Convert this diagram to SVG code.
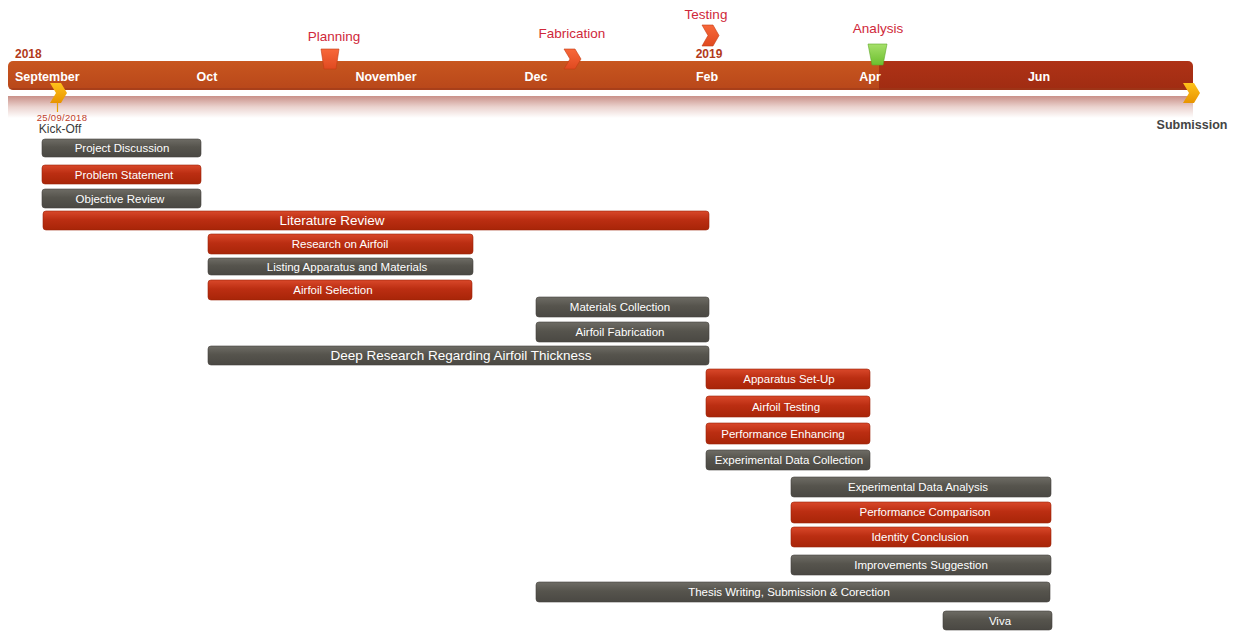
<svg xmlns="http://www.w3.org/2000/svg" width="1246" height="631" viewBox="0 0 1246 631">
<defs>
<linearGradient id="gRed" x1="0" y1="0" x2="0" y2="1">
<stop offset="0" stop-color="#D9482A"/><stop offset="0.45" stop-color="#BB2E12"/><stop offset="1" stop-color="#A82508"/>
</linearGradient>
<linearGradient id="gGray" x1="0" y1="0" x2="0" y2="1">
<stop offset="0" stop-color="#6E6C65"/><stop offset="0.45" stop-color="#56544D"/><stop offset="1" stop-color="#4A4843"/>
</linearGradient>
<linearGradient id="gRefl" x1="0" y1="0" x2="0" y2="1">
<stop offset="0" stop-color="#C99088"/><stop offset="0.5" stop-color="#EBD3CF"/><stop offset="1" stop-color="#FFFFFF"/>
</linearGradient>
<linearGradient id="gOrange" x1="0" y1="0" x2="0" y2="1">
<stop offset="0" stop-color="#C8561F"/><stop offset="1" stop-color="#B8471A"/>
</linearGradient>
<linearGradient id="gDark" x1="0" y1="0" x2="0" y2="1">
<stop offset="0" stop-color="#AE3216"/><stop offset="1" stop-color="#A02C12"/>
</linearGradient>
<linearGradient id="gYellow" x1="0" y1="0" x2="0" y2="1">
<stop offset="0" stop-color="#FFC21A"/><stop offset="1" stop-color="#E89400"/>
</linearGradient>
<linearGradient id="gGreen" x1="0" y1="0" x2="0" y2="1">
<stop offset="0" stop-color="#A6E06A"/><stop offset="1" stop-color="#6CBF2E"/>
</linearGradient>
<linearGradient id="gMark" x1="0" y1="0" x2="0" y2="1">
<stop offset="0" stop-color="#F8683A"/><stop offset="1" stop-color="#E04A20"/>
</linearGradient>
<clipPath id="barClip"><rect x="8" y="61" width="1185" height="29" rx="5"/></clipPath>
</defs>
<style>
.red{fill:url(#gRed);stroke:#9A2206;stroke-width:0.6}
.gray{fill:url(#gGray);stroke:#44423D;stroke-width:0.6}
.t{font-family:"Liberation Sans",Arial,sans-serif;font-size:11.5px;fill:#FFFFFF;text-anchor:middle;dominant-baseline:central}
.tb{font-size:13.5px}
.month{font-family:"Liberation Sans",Arial,sans-serif;font-size:12.5px;font-weight:bold;fill:#FFFFFF}
.yr{font-family:"Liberation Sans",Arial,sans-serif;font-size:12px;font-weight:bold;fill:#B23A1A}
.ms{font-family:"Liberation Sans",Arial,sans-serif;font-size:13.5px;fill:#D0283A;text-anchor:middle}
.mk{stroke:#C23C14;stroke-width:0.6}
</style>
<rect width="1246" height="631" fill="#FFFFFF"/>

<g id="timeline">
<rect x="8" y="96" width="1185" height="22" fill="url(#gRefl)"/>
<g clip-path="url(#barClip)">
<rect x="8" y="61" width="871" height="29" fill="url(#gOrange)"/>
<rect x="879" y="61" width="314" height="29" fill="url(#gDark)"/>
<rect x="8" y="88" width="1185" height="2" fill="#9C3A1A" opacity="0.6"/>
</g>
<text class="yr" x="15" y="58">2018</text>
<text class="yr" x="709" y="58" text-anchor="middle">2019</text>
<text class="month" x="15" y="81">September</text>
<text class="month" x="207" y="81" text-anchor="middle">Oct</text>
<text class="month" x="386" y="81" text-anchor="middle">November</text>
<text class="month" x="536" y="81" text-anchor="middle">Dec</text>
<text class="month" x="707" y="81" text-anchor="middle">Feb</text>
<text class="month" x="870" y="81" text-anchor="middle">Apr</text>
<text class="month" x="1039" y="81" text-anchor="middle">Jun</text>
</g>

<g id="kickoff">
<line x1="57.5" y1="100" x2="57.5" y2="112" stroke="#E8A000" stroke-width="1.2"/>
<polygon points="50,83 61,83 67,93 61,103 50,103 56,93" fill="url(#gYellow)"/>
<text x="62" y="121" font-family="Liberation Sans, Arial, sans-serif" font-size="9.5" letter-spacing="0.3" fill="#C0402A" text-anchor="middle">25/09/2018</text>
<text x="60" y="133" font-family="Liberation Sans, Arial, sans-serif" font-size="12" fill="#3A3A3A" text-anchor="middle">Kick-Off</text>
</g>

<g id="submission">
<polygon points="1183,83 1194,83 1200,93 1194,103 1183,103 1189,93" fill="url(#gYellow)"/>
<text x="1192" y="129" font-family="Liberation Sans, Arial, sans-serif" font-size="12.5" font-weight="bold" fill="#444444" text-anchor="middle">Submission</text>
</g>

<g id="planning">
<text class="ms" x="334" y="41">Planning</text>
<polygon class="mk" points="321,49 339,49 336,69 324,69" fill="url(#gMark)"/>
</g>
<g id="fabrication">
<text class="ms" x="572" y="38">Fabrication</text>
<polygon class="mk" points="564,49 575,49 581,59 575,69 564,69 570,59" fill="url(#gMark)"/>
</g>
<g id="testing">
<text class="ms" x="706" y="19">Testing</text>
<polygon class="mk" points="702,25 713,25 719,35.5 713,46 702,46 708,35.5" fill="url(#gMark)"/>
</g>
<g id="analysis">
<text class="ms" x="878" y="33">Analysis</text>
<polygon points="868,44 887,44 883,65 872,65" fill="url(#gGreen)" stroke="#5FA82A" stroke-width="0.6"/>
</g>

<g id="tasks">
<g id="t-project-discussion"><rect class="gray" x="42" y="139" width="159" height="18" rx="3"/><text class="t" x="122" y="148">Project Discussion</text></g>
<g id="t-problem-statement"><rect class="red" x="42" y="165" width="159" height="19" rx="3"/><text class="t" x="124" y="174.5">Problem Statement</text></g>
<g id="t-objective-review"><rect class="gray" x="42" y="189" width="159" height="19" rx="3"/><text class="t" x="120" y="198.5">Objective Review</text></g>
<g id="t-literature-review"><rect class="red" x="43" y="211" width="666" height="19" rx="3"/><text class="t tb" x="332" y="220.5">Literature Review</text></g>
<g id="t-research-airfoil"><rect class="red" x="208" y="234" width="265" height="20" rx="3"/><text class="t" x="340" y="244">Research on Airfoil</text></g>
<g id="t-listing"><rect class="gray" x="208" y="258" width="265" height="17" rx="3"/><text class="t" x="347" y="267">Listing Apparatus and Materials</text></g>
<g id="t-airfoil-selection"><rect class="red" x="208" y="280" width="264" height="20" rx="3"/><text class="t" x="333" y="290">Airfoil Selection</text></g>
<g id="t-materials-collection"><rect class="gray" x="536" y="297" width="173" height="20" rx="3"/><text class="t" x="620" y="307">Materials Collection</text></g>
<g id="t-airfoil-fabrication"><rect class="gray" x="536" y="322" width="173" height="20" rx="3"/><text class="t" x="620" y="332">Airfoil Fabrication</text></g>
<g id="t-deep-research"><rect class="gray" x="208" y="346" width="501" height="19" rx="3"/><text class="t tb" x="461" y="355.5">Deep Research Regarding Airfoil Thickness</text></g>
<g id="t-apparatus-setup"><rect class="red" x="706" y="369" width="164" height="20" rx="3"/><text class="t" x="789" y="379">Apparatus Set-Up</text></g>
<g id="t-airfoil-testing"><rect class="red" x="706" y="396" width="164" height="21" rx="3"/><text class="t" x="786" y="406.5" font-size="12.5">Airfoil Testing</text></g>
<g id="t-performance-enhancing"><rect class="red" x="706" y="423" width="164" height="21" rx="3"/><text class="t" x="783" y="433.5">Performance Enhancing</text></g>
<g id="t-exp-data-collection"><rect class="gray" x="706" y="450" width="164" height="20" rx="3"/><text class="t" x="789" y="460">Experimental Data Collection</text></g>
<g id="t-exp-data-analysis"><rect class="gray" x="791" y="477" width="260" height="20" rx="3"/><text class="t" x="918" y="487">Experimental Data Analysis</text></g>
<g id="t-performance-comparison"><rect class="red" x="791" y="502" width="260" height="21" rx="3"/><text class="t" x="925" y="512">Performance Comparison</text></g>
<g id="t-identity-conclusion"><rect class="red" x="791" y="527" width="260" height="20" rx="3"/><text class="t" x="920" y="537">Identity Conclusion</text></g>
<g id="t-improvements"><rect class="gray" x="791" y="555" width="260" height="20" rx="3"/><text class="t" x="921" y="565">Improvements Suggestion</text></g>
<g id="t-thesis"><rect class="gray" x="536" y="582" width="514" height="20" rx="3"/><text class="t" x="789" y="592">Thesis Writing, Submission &amp; Corection</text></g>
<g id="t-viva"><rect class="gray" x="943" y="611" width="109" height="19" rx="3"/><text class="t" x="1000" y="620.5">Viva</text></g>
</g>
<g id="connectors"/>
</svg>
